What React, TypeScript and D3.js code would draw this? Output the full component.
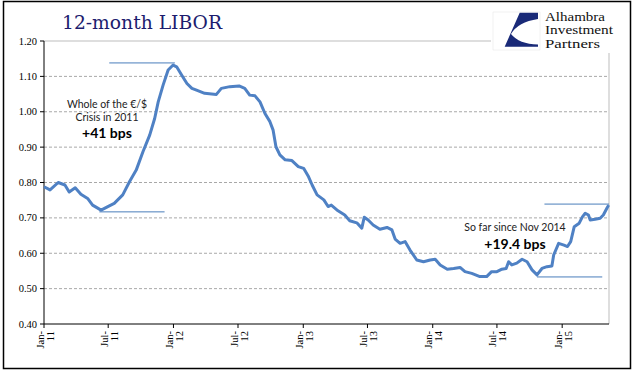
import React from "react";
import * as d3 from "d3";

const dates: string[] = [
  "2011-01-01","2011-01-18","2011-02-10","2011-03-01","2011-03-13","2011-03-30","2011-04-15","2011-05-04","2011-05-18","2011-06-11",
  "2011-06-30","2011-07-18","2011-08-11","2011-08-30","2011-09-18","2011-10-07","2011-10-26","2011-11-09","2011-11-19","2011-12-03",
  "2011-12-17","2011-12-31","2012-01-10","2012-01-24","2012-02-08","2012-02-22","2012-03-06","2012-03-29","2012-05-01","2012-05-15",
  "2012-06-08","2012-07-04","2012-07-20","2012-08-03","2012-08-18","2012-09-01","2012-09-15","2012-09-29","2012-10-08","2012-10-16",
  "2012-10-27","2012-11-11","2012-11-30","2012-12-18","2013-01-02","2013-01-16","2013-01-26","2013-02-09","2013-02-28","2013-03-12",
  "2013-03-21","2013-04-09","2013-04-28","2013-05-12","2013-06-01","2013-06-15","2013-06-22","2013-07-03","2013-07-17","2013-08-05",
  "2013-08-25","2013-09-08","2013-09-17","2013-10-01","2013-10-15","2013-10-29","2013-11-17","2013-12-06","2013-12-25","2014-01-08",
  "2014-01-22","2014-02-11","2014-03-01","2014-03-19","2014-04-02","2014-04-21","2014-05-14","2014-06-02","2014-06-16","2014-07-01",
  "2014-07-15","2014-07-27","2014-08-03","2014-08-12","2014-08-26","2014-09-10","2014-09-24","2014-10-08","2014-10-22","2014-11-05",
  "2014-11-19","2014-12-03","2014-12-08","2014-12-22","2015-01-06","2015-01-16","2015-01-25","2015-02-04","2015-02-18","2015-02-27",
  "2015-03-07","2015-03-16","2015-03-21","2015-04-04","2015-04-18","2015-04-27","2015-05-07","2015-05-12"
];

const libor: number[] = [
  0.788,0.779,0.800,0.793,0.773,0.785,0.767,0.755,0.736,0.722,
  0.732,0.741,0.765,0.802,0.835,0.887,0.934,0.981,1.028,1.076,
  1.118,1.132,1.127,1.104,1.080,1.066,1.061,1.052,1.049,1.066,
  1.071,1.073,1.066,1.047,1.045,1.028,0.995,0.972,0.948,0.901,
  0.878,0.864,0.862,0.845,0.840,0.816,0.793,0.765,0.751,0.732,
  0.736,0.720,0.708,0.692,0.686,0.671,0.702,0.694,0.680,0.668,
  0.673,0.666,0.640,0.628,0.633,0.609,0.581,0.576,0.581,0.583,
  0.567,0.555,0.557,0.560,0.548,0.543,0.534,0.534,0.548,0.548,
  0.555,0.557,0.576,0.567,0.572,0.583,0.576,0.553,0.539,0.557,
  0.562,0.564,0.595,0.628,0.623,0.619,0.633,0.675,0.685,0.703,
  0.713,0.708,0.694,0.696,0.699,0.708,0.727,0.736
];

const yTicks: number[] = [0.4, 0.5, 0.6, 0.7, 0.8, 0.9, 1.0, 1.1, 1.2];
const xTickDates: string[] = ["2011-01-01","2011-07-01","2012-01-01","2012-07-01","2013-01-01","2013-07-01","2014-01-01","2014-07-01","2015-01-01"];
const xTickMonths: string[] = ["Jan-","Jul-","Jan-","Jul-","Jan-","Jul-","Jan-","Jul-","Jan-"];
const xTickYears: string[] = ["11","11","12","12","13","13","14","14","15"];

// annotation reference lines
const crisisLow = { from: "2011-06-06", to: "2011-12-07", value: 0.717 };
const crisisHigh = { from: "2011-07-04", to: "2012-01-05", value: 1.138 };
const recentLow = { from: "2014-10-22", to: "2015-04-24", value: 0.533 };
const recentHigh = { from: "2014-11-12", to: "2015-05-13", value: 0.739 };

const title = "12-month LIBOR";
const note1 = ["Whole of the €/$", "Crisis in 2011"];
const note1Bold = "+41 bps";
const note2 = "So far since Nov 2014";
const note2Bold = "+19.4 bps";
const logoLines = ["Alhambra", "Investment", "Partners"];
const logoWidths: number[] = [60, 68, 55];

const parse = d3.timeParse("%Y-%m-%d");

export default function App() {
  const W = 641, H = 375;
  const left = 44, right = 609, top = 41, bottom = 324;
  const x = d3.scaleTime().domain([parse("2011-01-01")!, parse("2015-05-13")!]).range([left, right]);
  const y = d3.scaleLinear().domain([0.4, 1.2]).range([bottom, top]);
  const data = dates.map((d, i) => ({ d: parse(d)!, v: libor[i] }));
  const line = d3.line<{ d: Date; v: number }>().x((p) => x(p.d)).y((p) => y(p.v)).curve(d3.curveLinear);
  const serif = "'Liberation Serif', 'Times New Roman', serif";
  const sans = "Lato, 'Noto Sans', sans-serif";
  const lineColor = "#4f81c4";
  const annot = (a: { from: string; to: string; value: number }, k: string) => (
    <line key={k} x1={x(parse(a.from)!)} x2={x(parse(a.to)!)} y1={y(a.value)} y2={y(a.value)} stroke="#4a7ebb" strokeWidth={1} />
  );
  return (
    <svg width={W} height={H} style={{ position: "absolute", left: 0, top: 0, background: "#fff" }}>
      <rect x={0} y={0} width={W} height={H} fill="#fff" />
      <rect x={3.5} y={1.5} width={627} height={367} fill="none" stroke="#000" strokeWidth={1.5} />
      {/* gridlines */}
      {yTicks.slice(1).map((t) => (
        <line key={t} x1={left} x2={right} y1={y(t)} y2={y(t)} stroke={t === 1.2 ? "#bdbdbd" : "#a8a8a8"} strokeWidth={1}
          strokeDasharray={t === 1.2 ? undefined : "3,2"} />
      ))}
      <line x1={right} x2={right} y1={top} y2={bottom} stroke="#bdbdbd" strokeWidth={1} />
      {/* axes */}
      <line x1={left} x2={left} y1={top} y2={bottom} stroke="#000" strokeWidth={1} />
      <line x1={left} x2={right} y1={bottom} y2={bottom} stroke="#000" strokeWidth={1} />
      {yTicks.map((t) => (
        <g key={"y" + t}>
          <line x1={left - 4} x2={left} y1={y(t)} y2={y(t)} stroke="#000" />
          <text x={37} y={y(t) + 3.5} textAnchor="end" fontFamily={serif} fontSize={10.5} fill="#000">{t.toFixed(2)}</text>
        </g>
      ))}
      {xTickDates.map((d, i) => {
        const xx = x(parse(d)!);
        return (
          <g key={d}>
            <line x1={xx} x2={xx} y1={bottom} y2={bottom + 4} stroke="#000" />
            <g transform={`translate(${xx},${bottom + 7}) rotate(-90)`}>
              <text x={0} y={-0.5} textAnchor="end" fontFamily={serif} fontSize={10.5} fill="#000">{xTickMonths[i]}</text>
              <text x={0} y={9.5} textAnchor="end" fontFamily={serif} fontSize={10.5} fill="#000">{xTickYears[i]}</text>
            </g>
          </g>
        );
      })}
      {/* annotation lines */}
      {annot(crisisLow, "a1")}
      {annot(crisisHigh, "a2")}
      {annot(recentLow, "a3")}
      {annot(recentHigh, "a4")}
      {/* series */}
      <path d={line(data) || ""} fill="none" stroke={lineColor} strokeWidth={3} strokeLinejoin="round" />
      {/* annotation text */}
      <text x={107} y={108} textAnchor="middle" fontFamily={sans} fontSize={10.5} fill="#222">{note1[0]}</text>
      <text x={107} y={121} textAnchor="middle" fontFamily={sans} fontSize={10.5} fill="#222">{note1[1]}</text>
      <text x={107} y={138} textAnchor="middle" fontFamily={sans} fontSize={14} fontWeight="bold" fill="#000">{note1Bold}</text>
      <text x={515} y={231} textAnchor="middle" fontFamily={sans} fontSize={10.5} fill="#222">{note2}</text>
      <text x={515} y={249} textAnchor="middle" fontFamily={sans} fontSize={14} fontWeight="bold" fill="#000">{note2Bold}</text>
      {/* title */}
      <text x={62} y={29} fontFamily="'DejaVu Serif', Georgia, serif" fontSize={18} fill="#1c1c6e" textLength={160} lengthAdjust="spacingAndGlyphs">{title}</text>
      {/* logo */}
      <rect x={491} y={4} width={134} height={49} fill="#fff" />
      <rect x={493} y={12} width={47} height={38} fill="#fff" stroke="#e4e4e4" strokeWidth={0.5} />
      <path d="M504.7,46.7 L519.7,12.7 L538,12.7 L538,19 Q518,22 511,34 Q519,44 538,44.5 L538,46.7 Z" fill="#1a2a78" />
      {logoLines.map((s, i) => (
        <text key={s} x={545} y={20.5 + i * 13.5} fontFamily={serif} fontSize={12} fill="#111"
          textLength={logoWidths[i]} lengthAdjust="spacingAndGlyphs">{s}</text>
      ))}
    </svg>
  );
}
